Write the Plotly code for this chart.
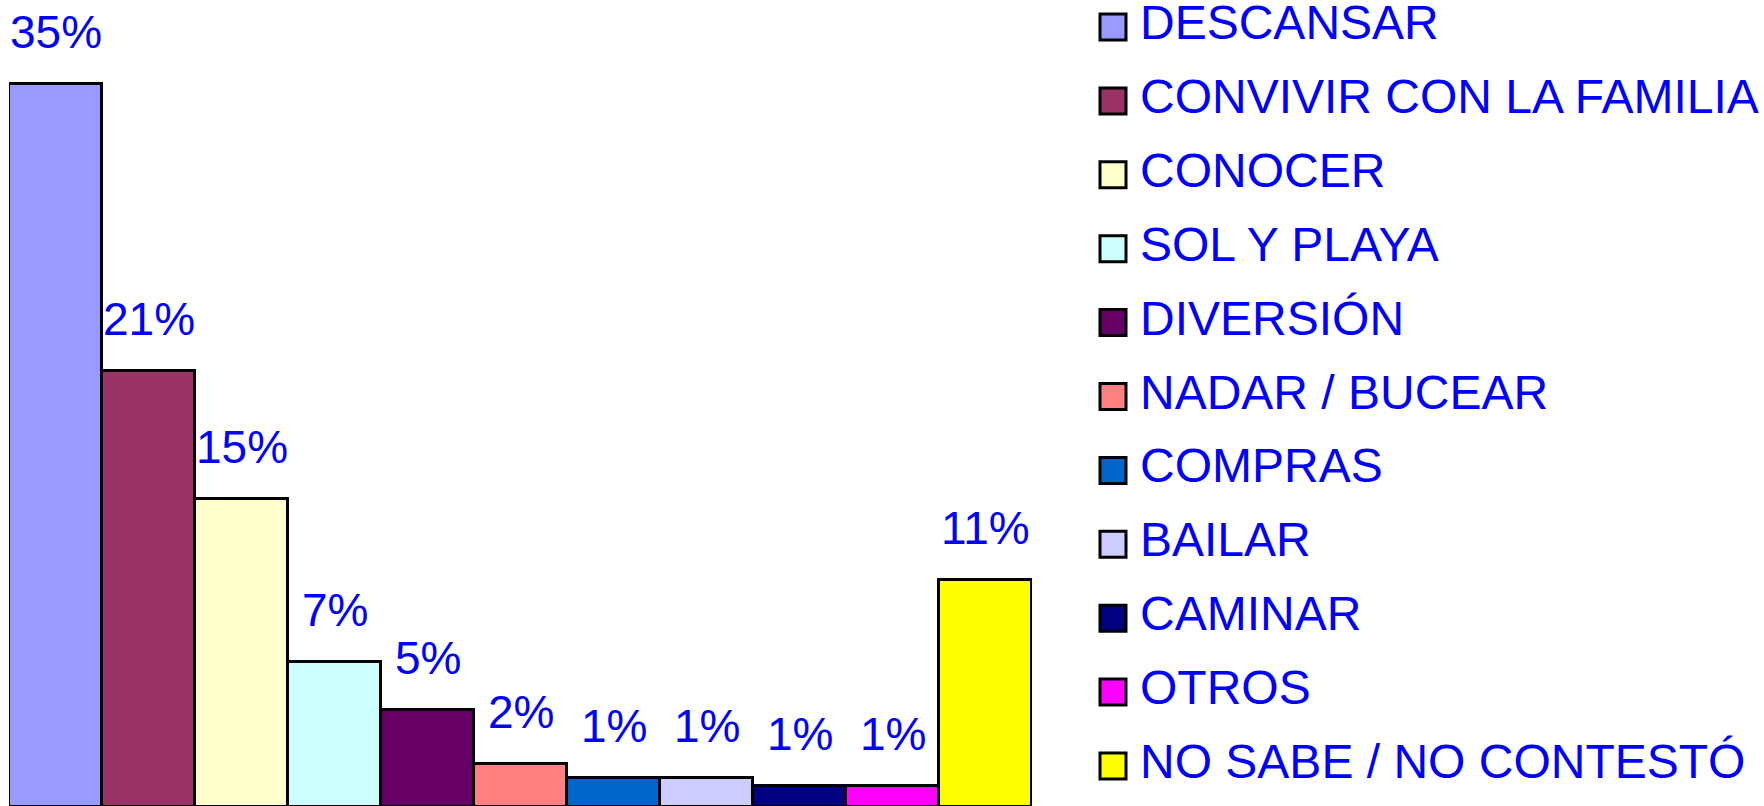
import plotly.graph_objects as go

# Motivos del viaje (porcentaje de respuestas)
categories = [
    "DESCANSAR",
    "CONVIVIR CON LA FAMILIA",
    "CONOCER",
    "SOL Y PLAYA",
    "DIVERSIÓN",
    "NADAR / BUCEAR",
    "COMPRAS",
    "BAILAR",
    "CAMINAR",
    "OTROS",
    "NO SABE / NO CONTESTÓ",
]
values = [35.0, 21.1, 14.9, 7.0, 4.7, 2.1, 1.4, 1.4, 1.0, 1.0, 11.0]
colors = [
    "#9999FF", "#993366", "#FFFFCC", "#CCFFFF", "#660066", "#FF8080",
    "#0066CC", "#CCCCFF", "#000080", "#FF00FF", "#FFFF00",
]

FONT = "Liberation Sans, Arial, sans-serif"
TEXT_BLUE = "#0000FF"
W, H = 1764, 806

fig = go.Figure()

fig.add_trace(
    go.Bar(
        x=categories,
        y=values,
        marker={"color": colors, "line": {"color": "#000000", "width": 3}},
        showlegend=False,
        xaxis="x",
        yaxis="y",
    )
)

# percentage labels above each bar
for cat, val in zip(categories, values):
    fig.add_annotation(
        x=cat,
        y=val,
        xref="x",
        yref="y",
        text=f"{val:.0f}%",
        showarrow=False,
        yanchor="bottom",
        yshift=24,
        font={"family": FONT, "size": 46, "color": TEXT_BLUE},
    )

# legend drawn as a marker column + text column on its own axis
# (x2 axis is in pixels, 0 = centre of the legend squares)
fig.add_trace(
    go.Scatter(
        x=[0] * len(categories),
        y=categories,
        mode="markers",
        marker={"symbol": "square", "size": 26, "color": colors, "line": {"color": "#000000", "width": 3}},
        cliponaxis=False,
        showlegend=False,
        hoverinfo="skip",
        xaxis="x2",
        yaxis="y2",
    )
)
fig.add_trace(
    go.Scatter(
        x=[27] * len(categories),
        y=categories,
        mode="text",
        text=categories,
        textposition="middle right",
        textfont={"family": FONT, "size": 48, "color": TEXT_BLUE},
        cliponaxis=False,
        showlegend=False,
        hoverinfo="skip",
        xaxis="x2",
        yaxis="y2",
    )
)

px_per_unit = 20.67
row = 73.9
first_row = 27
fig.update_layout(
    width=W,
    height=H,
    margin={"l": 0, "r": 0, "t": 0, "b": 0},
    paper_bgcolor="#FFFFFF",
    plot_bgcolor="#FFFFFF",
    bargap=0,
    xaxis={
        "domain": [9 / W, 1032 / W],
        "range": [-0.5, len(categories) - 0.5],
        "visible": False,
    },
    yaxis={
        "domain": [0, 1],
        "range": [0.05, 0.05 + H / px_per_unit],
        "visible": False,
    },
    xaxis2={
        "domain": [1088 / W, 1],
        "range": [-25, W - 1088 - 25],
        "visible": False,
    },
    yaxis2={
        "domain": [0, 1],
        "type": "category",
        "range": [(H - first_row) / row, -first_row / row],
        "visible": False,
    },
    font={"family": FONT, "color": TEXT_BLUE},
)

fig.write_html(
    "out.html",
    config={"displayModeBar": False},
    post_script="document.body.style.margin='0';",
)
